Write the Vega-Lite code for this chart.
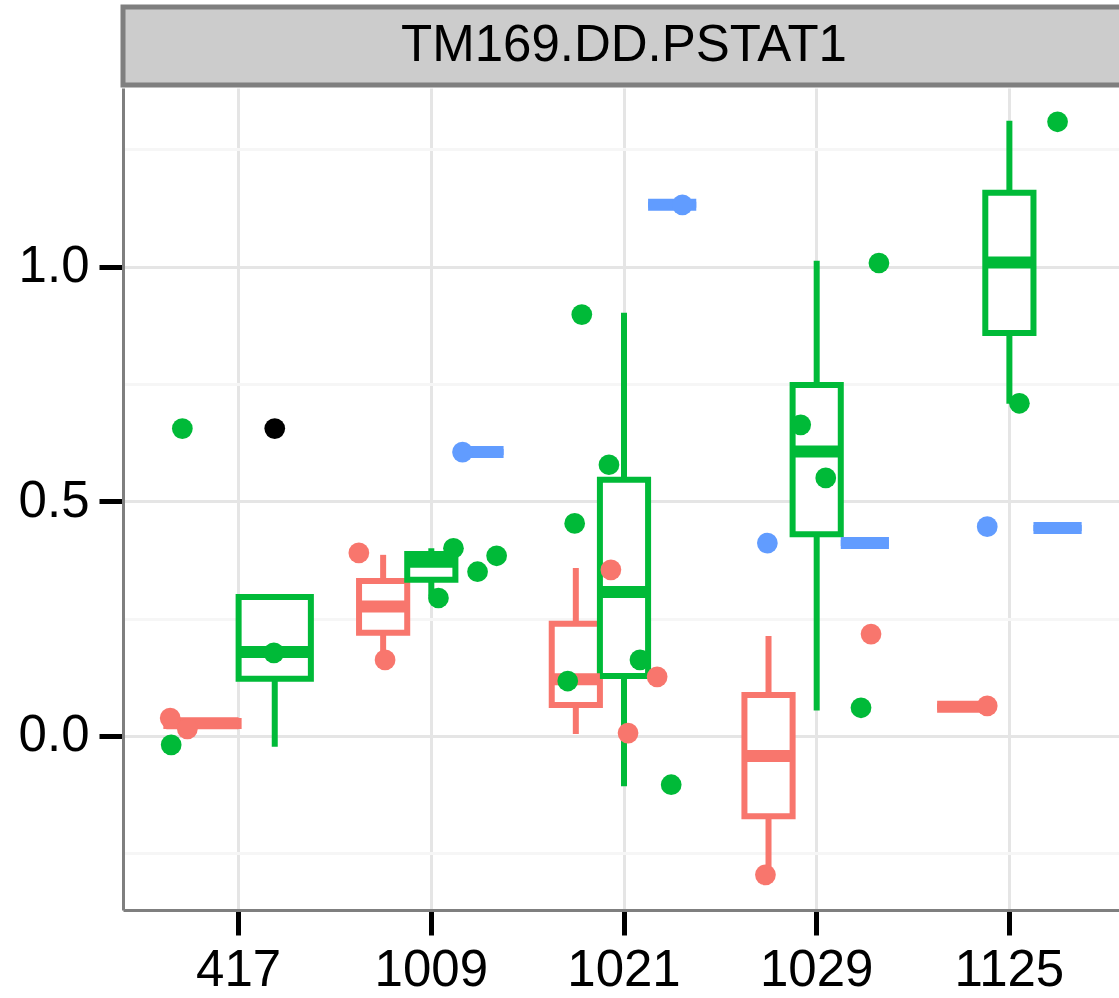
{
  "$schema": "https://vega.github.io/schema/vega-lite/v6.json",
  "padding": {"left": 18, "top": 4, "right": 0, "bottom": 0},
  "spacing": 0,
  "config": {"font": "Liberation Sans", "view": {"stroke": null}},
  "datasets": {
    "strip": [{"panel": "TM169.DD.PSTAT1"}],
    "boxes": [
      {"category": "417", "group": "g1", "lower": 0.015, "q1": 0.021, "median": 0.027, "q3": 0.032, "upper": 0.038},
      {"category": "417", "group": "g2", "lower": -0.023, "q1": 0.122, "median": 0.179, "q3": 0.296, "upper": 0.296, "outlier": 0.655},
      {"category": "1009", "group": "g1", "lower": 0.162, "q1": 0.22, "median": 0.276, "q3": 0.33, "upper": 0.386},
      {"category": "1009", "group": "g2", "lower": 0.297, "q1": 0.333, "median": 0.371, "q3": 0.388, "upper": 0.4},
      {"category": "1009", "group": "g3", "lower": 0.605, "q1": 0.605, "median": 0.605, "q3": 0.605, "upper": 0.605},
      {"category": "1021", "group": "g1", "lower": 0.004, "q1": 0.066, "median": 0.121, "q3": 0.239, "upper": 0.358},
      {"category": "1021", "group": "g2", "lower": -0.107, "q1": 0.128, "median": 0.307, "q3": 0.546, "upper": 0.902},
      {"category": "1021", "group": "g3", "lower": 1.132, "q1": 1.132, "median": 1.132, "q3": 1.132, "upper": 1.132},
      {"category": "1029", "group": "g1", "lower": -0.288, "q1": -0.171, "median": -0.043, "q3": 0.087, "upper": 0.213},
      {"category": "1029", "group": "g2", "lower": 0.054, "q1": 0.43, "median": 0.606, "q3": 0.748, "upper": 1.013},
      {"category": "1029", "group": "g3", "lower": 0.411, "q1": 0.411, "median": 0.411, "q3": 0.411, "upper": 0.411},
      {"category": "1125", "group": "g1", "lower": 0.062, "q1": 0.062, "median": 0.062, "q3": 0.062, "upper": 0.062},
      {"category": "1125", "group": "g2", "lower": 0.708, "q1": 0.859, "median": 1.009, "q3": 1.158, "upper": 1.311},
      {"category": "1125", "group": "g3", "lower": 0.443, "q1": 0.443, "median": 0.443, "q3": 0.443, "upper": 0.443}
    ],
    "points": [
      {"category": "417", "group": "g1", "value": 0.038, "jitter": -0.355},
      {"category": "417", "group": "g1", "value": 0.015, "jitter": -0.266},
      {"category": "417", "group": "g2", "value": 0.655, "jitter": -0.292},
      {"category": "417", "group": "g2", "value": -0.019, "jitter": -0.35},
      {"category": "417", "group": "g2", "value": 0.177, "jitter": 0.183},
      {"category": "1009", "group": "g1", "value": 0.39, "jitter": -0.376},
      {"category": "1009", "group": "g1", "value": 0.162, "jitter": -0.24},
      {"category": "1009", "group": "g2", "value": 0.4, "jitter": 0.115},
      {"category": "1009", "group": "g2", "value": 0.384, "jitter": 0.339},
      {"category": "1009", "group": "g2", "value": 0.35, "jitter": 0.24},
      {"category": "1009", "group": "g2", "value": 0.294, "jitter": 0.037},
      {"category": "1009", "group": "g3", "value": 0.605, "jitter": 0.162},
      {"category": "1021", "group": "g1", "value": 0.354, "jitter": -0.068},
      {"category": "1021", "group": "g1", "value": 0.126, "jitter": 0.172},
      {"category": "1021", "group": "g1", "value": 0.006, "jitter": 0.021},
      {"category": "1021", "group": "g2", "value": 0.898, "jitter": -0.219},
      {"category": "1021", "group": "g2", "value": 0.578, "jitter": -0.078},
      {"category": "1021", "group": "g2", "value": 0.453, "jitter": -0.256},
      {"category": "1021", "group": "g2", "value": 0.162, "jitter": 0.083},
      {"category": "1021", "group": "g2", "value": 0.117, "jitter": -0.292},
      {"category": "1021", "group": "g2", "value": -0.104, "jitter": 0.245},
      {"category": "1021", "group": "g3", "value": 1.132, "jitter": 0.303},
      {"category": "1029", "group": "g1", "value": 0.217, "jitter": 0.282},
      {"category": "1029", "group": "g1", "value": -0.296, "jitter": -0.266},
      {"category": "1029", "group": "g2", "value": 1.008, "jitter": 0.323},
      {"category": "1029", "group": "g2", "value": 0.663, "jitter": -0.083},
      {"category": "1029", "group": "g2", "value": 0.55, "jitter": 0.047},
      {"category": "1029", "group": "g2", "value": 0.06, "jitter": 0.23},
      {"category": "1029", "group": "g3", "value": 0.411, "jitter": -0.256},
      {"category": "1125", "group": "g1", "value": 0.064, "jitter": -0.115},
      {"category": "1125", "group": "g2", "value": 1.309, "jitter": 0.25},
      {"category": "1125", "group": "g2", "value": 0.709, "jitter": 0.052},
      {"category": "1125", "group": "g3", "value": 0.446, "jitter": -0.115}
    ]
  },
  "vconcat": [
    {
      "data": {"name": "strip"},
      "width": 1002,
      "height": 78,
      "view": {"fill": "#CCCCCC", "stroke": "#7F7F7F", "strokeWidth": 5},
      "mark": {"type": "text", "fontSize": 51, "color": "black", "baseline": "middle", "align": "center", "font": "Liberation Sans"},
      "encoding": {"text": {"field": "panel"}}
    },
    {
      "width": 1002,
      "height": 822,
      "resolve": {"scale": {"xOffset": "independent"}},
      "layer": [
        {
          "data": {"name": "boxes"},
          "transform": [{"filter": "datum.category === '417'"}],
          "encoding": {
            "x": {
              "field": "category", "type": "nominal",
              "scale": {"domain": ["417", "1009", "1021", "1029", "1125"], "paddingInner": 0, "paddingOuter": 0.1},
              "axis": {
                "title": null, "labelAngle": 0, "labelFontSize": 51, "labelColor": "black", "labelPadding": 10,
                "labelFont": "Liberation Sans", "tickSize": 25, "tickWidth": 5, "tickColor": "black",
                "grid": true, "gridColor": "#E5E5E5", "gridWidth": 3, "bandPosition": 0.5,
                "domain": true, "domainColor": "#7F7F7F", "domainWidth": 3
              }
            },
            "xOffset": {"field": "group", "type": "nominal", "scale": {"domain": ["g1", "g2"], "paddingInner": 0, "paddingOuter": 0.3333}}
          },
          "layer": [
            {
              "mark": {"type": "rule", "strokeWidth": 6},
              "encoding": {
                "y": {
                  "field": "lower", "type": "quantitative",
                  "scale": {"domain": [-0.371, 1.381], "nice": false, "zero": false},
                  "axis": {
                    "title": null, "values": [-0.25, 0, 0.25, 0.5, 0.75, 1, 1.25],
                    "labelExpr": "datum.value % 0.5 === 0 ? format(datum.value, '.1f') : ''",
                    "labelOverlap": false, "labelFontSize": 51, "labelColor": "black", "labelPadding": 10,
                    "labelFont": "Liberation Sans", "tickSize": 24, "tickWidth": 5,
                    "tickColor": {"condition": {"test": "datum.value % 0.5 !== 0", "value": "transparent"}, "value": "black"},
                    "grid": true,
                    "gridColor": {"condition": {"test": "datum.value % 0.5 !== 0", "value": "#F6F6F6"}, "value": "#E5E5E5"},
                    "gridWidth": 3, "domain": true, "domainColor": "#7F7F7F", "domainWidth": 3
                  }
                },
                "y2": {"field": "upper"},
                "color": {"field": "group", "type": "nominal", "scale": {"domain": ["g1", "g2", "g3"], "range": ["#F8766D", "#00BA38", "#619CFF"]}, "legend": null}
              }
            },
            {
              "mark": {"type": "bar", "fill": "white", "strokeWidth": 6},
              "encoding": {
                "y": {"field": "q1", "type": "quantitative"},
                "y2": {"field": "q3"},
                "stroke": {"field": "group", "type": "nominal", "scale": {"domain": ["g1", "g2", "g3"], "range": ["#F8766D", "#00BA38", "#619CFF"]}, "legend": null}
              }
            },
            {
              "mark": {"type": "bar", "fill": "white", "strokeWidth": 12},
              "encoding": {
                "y": {"field": "median", "type": "quantitative"},
                "y2": {"field": "median"},
                "stroke": {"field": "group", "type": "nominal", "legend": null}
              }
            },
            {
              "mark": {"type": "circle", "size": 430, "opacity": 1, "color": "black"},
              "encoding": {"y": {"field": "outlier", "type": "quantitative"}}
            }
          ]
        },
        {
          "data": {"name": "boxes"},
          "transform": [{"filter": "datum.category !== '417'"}],
          "encoding": {
            "x": {"field": "category", "type": "nominal"},
            "xOffset": {"field": "group", "type": "nominal", "scale": {"domain": ["g1", "g2", "g3"], "paddingInner": 0, "paddingOuter": 0.5}}
          },
          "layer": [
            {
              "mark": {"type": "rule", "strokeWidth": 6},
              "encoding": {
                "y": {"field": "lower", "type": "quantitative"},
                "y2": {"field": "upper"},
                "color": {"field": "group", "type": "nominal", "legend": null}
              }
            },
            {
              "mark": {"type": "bar", "fill": "white", "strokeWidth": 6},
              "encoding": {
                "y": {"field": "q1", "type": "quantitative"},
                "y2": {"field": "q3"},
                "stroke": {"field": "group", "type": "nominal", "legend": null}
              }
            },
            {
              "mark": {"type": "bar", "fill": "white", "strokeWidth": 12},
              "encoding": {
                "y": {"field": "median", "type": "quantitative"},
                "y2": {"field": "median"},
                "stroke": {"field": "group", "type": "nominal", "legend": null}
              }
            }
          ]
        },
        {
          "data": {"name": "points"},
          "mark": {"type": "circle", "size": 430, "opacity": 1},
          "encoding": {
            "x": {"field": "category", "type": "nominal"},
            "xOffset": {"field": "jitter", "type": "quantitative", "scale": {"domain": [-0.5, 0.5]}},
            "y": {"field": "value", "type": "quantitative"},
            "color": {"field": "group", "type": "nominal", "legend": null}
          }
        }
      ]
    }
  ]
}
